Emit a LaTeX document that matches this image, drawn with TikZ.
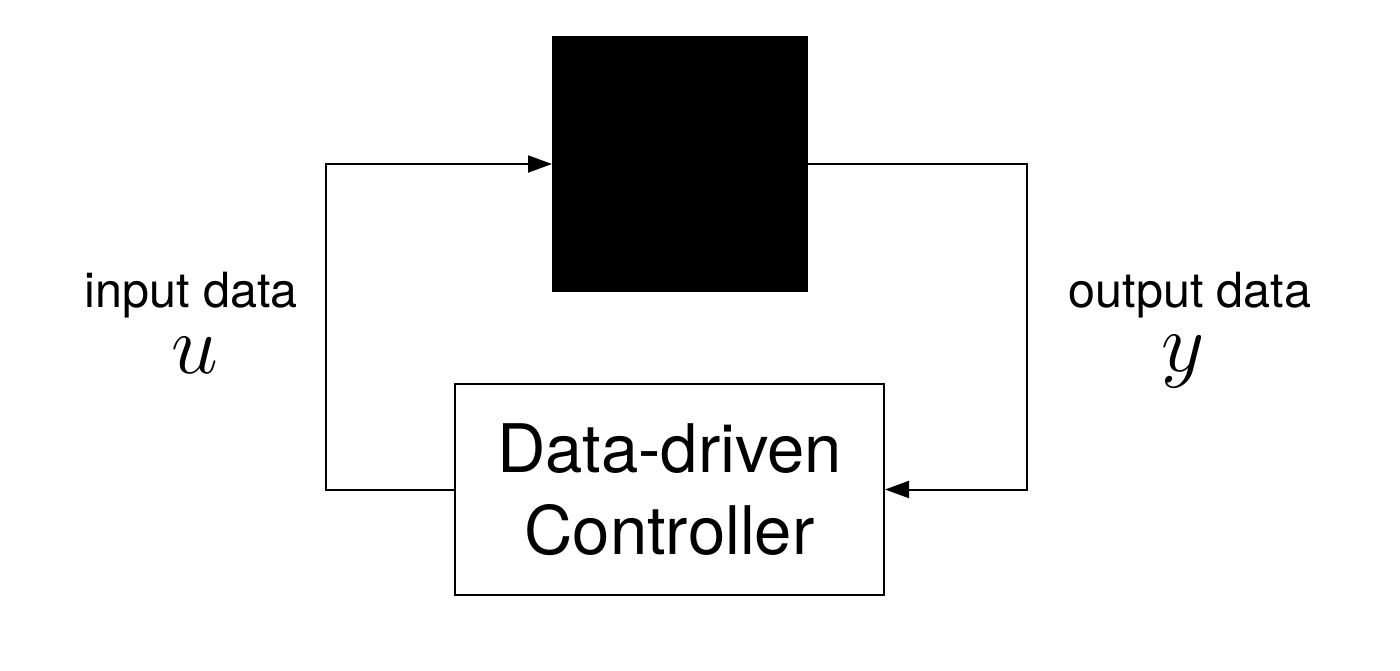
\RequirePackage{fix-cm}
\documentclass[tikz,border=0pt]{standalone}
\usepackage{fontspec}
\setmainfont{TeX Gyre Heros}
\usetikzlibrary{arrows.meta}
\begin{document}
\begin{tikzpicture}[x=1pt,y=-1pt,
  conn/.style={line width=2pt,-{Triangle[length=24pt,width=17pt]}},
  lbl/.style={font=\fontsize{48.5}{56}\selectfont,anchor=base,inner sep=0pt},
  mathlbl/.style={font=\fontsize{84}{90}\selectfont,anchor=base,inner sep=0pt}]
\useasboundingbox (0,0) rectangle (1400,670);
\node[fill=black,draw=black,line width=2pt,minimum width=254pt,minimum height=254pt,inner sep=0pt] (plant) at (680,164) {};
\node[draw=black,line width=2pt,minimum width=429pt,minimum height=211pt,inner sep=0pt,align=center,font=\fontsize{67}{82}\selectfont] (ctrl) at (669.5,489.5) {Data-driven\\Controller};
\coordinate (lc) at (326,489.5);
\coordinate (rc) at (1027,164);
\draw[conn] (ctrl.west) -- (lc) |- (plant.west);
\draw[conn] (plant.east) -- (rc) |- (ctrl.east);
\node[lbl] (inl) at (191,307) {input data};
\node[mathlbl] (u) at (195,373) {$u$};
\node[lbl] (outl) at (1190,307) {output data};
\node[mathlbl] (yv) at (1183,371) {$y$};
\end{tikzpicture}
\end{document}
